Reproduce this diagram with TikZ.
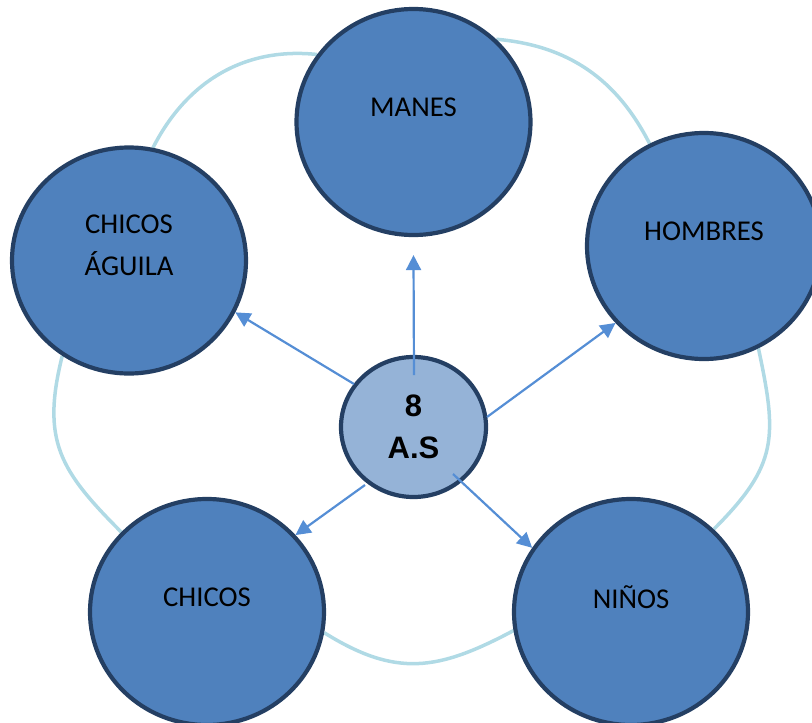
\documentclass[tikz,border=0pt]{standalone}
\usepackage{fontspec}
\setmainfont{Carlito}
\newfontfamily\hubfont{Liberation Sans}
\usetikzlibrary{arrows.meta,shapes.geometric,backgrounds}

\definecolor{discfill}{HTML}{4F81BD}
\definecolor{discline}{HTML}{243F63}
\definecolor{hubfill}{HTML}{95B3D7}
\definecolor{ringblue}{HTML}{B0DAE5}
\definecolor{spokeblue}{HTML}{558ED5}

\begin{document}
\begin{tikzpicture}[x=1pt,y=-1pt,
  disc/.style={ellipse, draw=discline, fill=discfill, line width=4.2pt,
    minimum width=234pt, minimum height=226pt, inner sep=0pt},
  hubdisc/.style={ellipse, draw=discline, fill=hubfill, line width=4.2pt,
    minimum width=145pt, minimum height=140pt, inner sep=0pt, align=center,
    font=\hubfont\bfseries\fontsize{31}{42}\selectfont},
  tag/.style={font=\fontsize{28.7}{42}\selectfont, text=black, align=center, inner sep=0pt},
  ring/.style={draw=ringblue, line width=3.5pt},
  spoke/.style={draw=spokeblue, line width=2.2pt, -{Triangle[length=15pt,width=15pt]}}]
\useasboundingbox (0,0) rectangle (812,723);

% outer discs
\node[disc] (manes)   at (413.5,122) {};
\node[disc] (hombres) at (704,246)   {};
\node[disc] (aguila)  at (129,260.5) {};
\node[disc] (chicos)  at (207,612)   {};
\node[disc] (ninos)   at (631,612)   {};

% light ring segments between neighbouring discs, kept behind the discs
\begin{scope}[on background layer]
\draw[ring] (manes.45) to[out=-5,in=117] (hombres.118);
\draw[ring] (aguila.78) to[out=63,in=174] (manes.145);
\draw[ring] (aguila.-125) to[out=-104,in=135,looseness=1.2] (chicos.137);
\draw[ring] (chicos.-10) to[out=-32,in=-152,looseness=1.15] (ninos.-171);
\draw[ring] (ninos.45) to[out=45,in=-78,looseness=1.25] (hombres.-62);
\end{scope}

% labels
\node[tag] (manesText)   at ([yshift=15pt]manes.center)   {MANES};
\node[tag] (hombresText) at ([yshift=15pt]hombres.center) {HOMBRES};
\node[tag] (aguilaText)  at ([yshift=15pt]aguila.center)  {CHICOS\\ÁGUILA};
\node[tag] (chicosText)  at ([yshift=15pt]chicos.center)  {CHICOS};
\node[tag] (ninosText)   at ([yshift=15pt]ninos.center)   {NIÑOS};

% hub
\node[hubdisc] (hub) at (413.5,427) {8\\A.S};

% spokes
\coordinate (sUp)    at (414,375);
\coordinate (sLeft)  at (354,384);
\coordinate (sRight) at (487,417);
\coordinate (sDownL) at (365,485);
\coordinate (sDownR) at (453,474);
\draw[spoke] (sUp)    -- ([yshift=-18pt]manes.south);
\draw[spoke] (sLeft)  -- (aguila.-26);
\draw[spoke] (sRight) -- (hombres.-139);
\draw[spoke] (sDownL) -- (chicos.41);
\draw[spoke] (sDownR) -- (ninos.147);
\end{tikzpicture}
\end{document}
